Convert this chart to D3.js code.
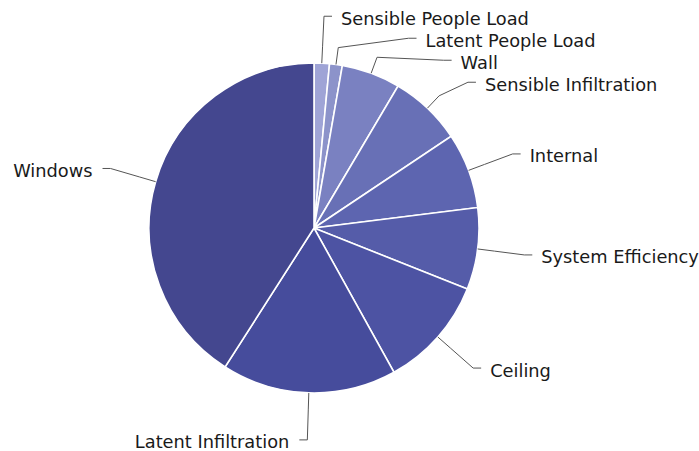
<!DOCTYPE html>
<meta charset="utf-8">
<style>
body {
  margin: 0;
  background: #fff;
}
.label {
  font: 17.8px "DejaVu Sans", sans-serif;
  fill: #1a1a1a;
  dominant-baseline: central;
}
.leader {
  fill: none;
  stroke: #555;
  stroke-width: 1;
}
</style>
<svg width="699" height="451"></svg>
<script src="https://d3js.org/d3.v7.min.js"></script>
<script>

// load categories, clockwise from 12 o'clock
var categories = ["Sensible People Load", "Latent People Load", "Wall", "Sensible Infiltration",
                  "Internal", "System Efficiency", "Ceiling", "Latent Infiltration", "Windows"];
// share of the total (%)
var shares = [1.5, 1.25, 5.75, 7.1, 7.4, 8.0, 10.9, 17.1, 40.9];
var colours = ["#9fa4d6", "#8c93ca", "#7a81c1", "#6870b6", "#5d65b0", "#555ca9", "#4d53a3", "#464c9c", "#44478f"];

var svg = d3.select("svg"),
    cx = 314, cy = 228,
    radius = 165,
    kneeR = 182,
    labelR = 212,
    gap = 22;

var g = svg.append("g").attr("transform", "translate(" + cx + "," + cy + ")");

var pie = d3.pie().sort(null).value(function(d) { return d.value; });
var arc = d3.arc().innerRadius(0).outerRadius(radius);

var data = categories.map(function(c, i) { return { name: c, value: shares[i] }; });
var arcs = pie(data);

g.selectAll("path.slice")
  .data(arcs)
  .enter().append("path")
    .attr("class", "slice")
    .attr("d", arc)
    .style("fill", function(d, i) { return colours[i]; })
    .style("stroke", "#fff")
    .style("stroke-width", 1.6);

// place labels on a circle of radius labelR, then push overlapping ones apart
arcs.forEach(function(d) {
  d.mid = (d.startAngle + d.endAngle) / 2;
  d.right = Math.sin(d.mid) >= 0;
  d.ly = -labelR * Math.cos(d.mid);
});
["right", "left"].forEach(function(side) {
  var list = arcs.filter(function(d) { return side == "right" ? d.right : !d.right; })
    .sort(function(a, b) { return a.ly - b.ly; });
  for (var i = 1; i < list.length; i++) {
    if (list[i].ly - list[i - 1].ly < gap) list[i].ly = list[i - 1].ly + gap;
  }
});
arcs.forEach(function(d) {
  var dx = Math.sqrt(Math.max(0, labelR * labelR - d.ly * d.ly));
  d.lx = d.right ? dx : -dx;
});

g.selectAll("polyline")
  .data(arcs)
  .enter().append("polyline")
    .attr("class", "leader")
    .attr("points", function(d) {
      var s = d.right ? 1 : -1;
      var p0 = [radius * Math.sin(d.mid), -radius * Math.cos(d.mid)],
          p1 = [kneeR * Math.sin(d.mid), -kneeR * Math.cos(d.mid)],
          p2 = [d.lx, d.ly],
          p3 = [d.lx + s * 8, d.ly];
      return [p0, p1, p2, p3].join(" ");
    });

g.selectAll("text")
  .data(arcs)
  .enter().append("text")
    .attr("class", "label")
    .attr("x", function(d) { return d.lx + (d.right ? 17 : -18); })
    .attr("y", function(d) { return d.ly + 2; })
    .style("text-anchor", function(d) { return d.right ? "start" : "end"; })
    .text(function(d) { return d.data.name; });

</script>
